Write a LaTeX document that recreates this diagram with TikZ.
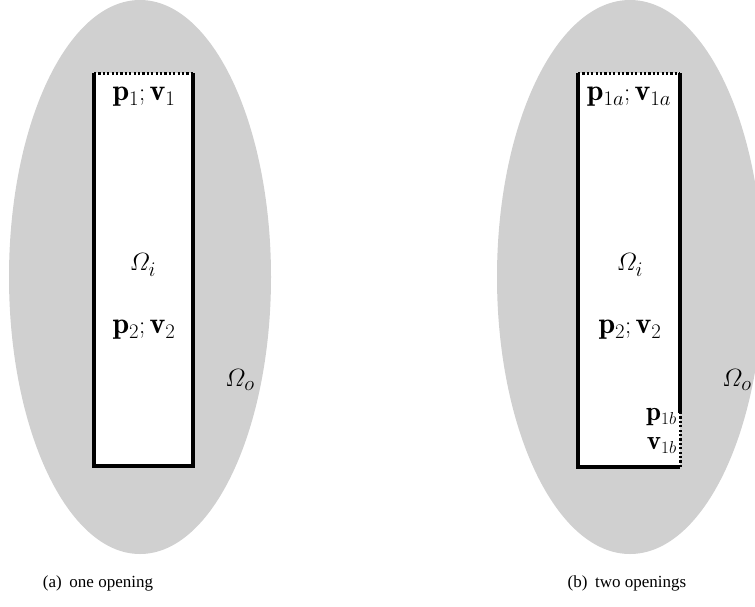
\documentclass[tikz,border=0pt]{standalone}
\usepackage{amsmath}
\usepackage{fontspec}
\newfontfamily\capfont{Liberation Serif}
\definecolor{outer}{RGB}{208,208,208}

\begin{document}
\begin{tikzpicture}[x=1pt, y=-1pt,
  wall/.style={line width=3.5pt, line join=miter},
  opening/.style={line width=3pt, dash pattern=on 2.2pt off 2.2pt},
  lbl/.style={font=\fontsize{30}{35}\selectfont, inner sep=0pt},
  subcap/.style={font=\capfont\fontsize{17}{20}\selectfont}]
  \useasboundingbox (0,0) rectangle (755,606);
  \clip (0,0) rectangle (755,606);
  % Outer domains
  \fill[outer] (140,277) ellipse [x radius=131pt, y radius=277pt];
  \fill[outer] (630,277) ellipse [x radius=133pt, y radius=277pt];
  % (a) one opening
  \coordinate (A1) at (94,73);
  \coordinate (B1) at (193,73);
  \coordinate (C1) at (193,466);
  \coordinate (D1) at (94,466);
  \fill[white] (A1) rectangle (C1);
  \draw[wall] (A1) -- (D1) -- (C1) -- (B1);
  \draw[opening] (A1) -- (B1);
  \node[lbl] (top1) at (144,97) {$\mathbf{p}_1;\mathbf{v}_1$};
  \node[lbl] (in1) at (143,265) {$\varOmega_i$};
  \node[lbl] (mid1) at (144,330) {$\mathbf{p}_2;\mathbf{v}_2$};
  \node[lbl] (out1) at (240,380) {$\varOmega_o$};
  \node[subcap] (capa) at (98,583) {(a)\hspace{0.45em}one opening};
  % (b) two openings
  \coordinate (A2) at (578,73);
  \coordinate (B2) at (680,73);
  \coordinate (C2) at (680,467);
  \coordinate (D2) at (578,467);
  \coordinate (E2) at (680,413);
  \fill[white] (A2) rectangle (C2);
  \draw[wall] (A2) -- (D2) -- (C2);
  \draw[wall] (E2) -- (B2);
  \draw[opening] (A2) -- (B2);
  \draw[opening] (C2) -- (E2);
  \node[lbl] (top2) at (629,97) {$\mathbf{p}_{1a};\mathbf{v}_{1a}$};
  \node[lbl] (in2) at (630,265) {$\varOmega_i$};
  \node[lbl] (mid2) at (630,330) {$\mathbf{p}_2;\mathbf{v}_2$};
  \node[lbl] (out2) at (737,380) {$\varOmega_o$};
  \node[lbl, font=\fontsize{27}{29}\selectfont, align=right, anchor=east]
    (bot2) at (677,431) {$\mathbf{p}_{1b}$\\$\mathbf{v}_{1b}$};
  \node[subcap] (capb) at (627,583) {(b)\hspace{0.45em}two openings};
\end{tikzpicture}
\end{document}
